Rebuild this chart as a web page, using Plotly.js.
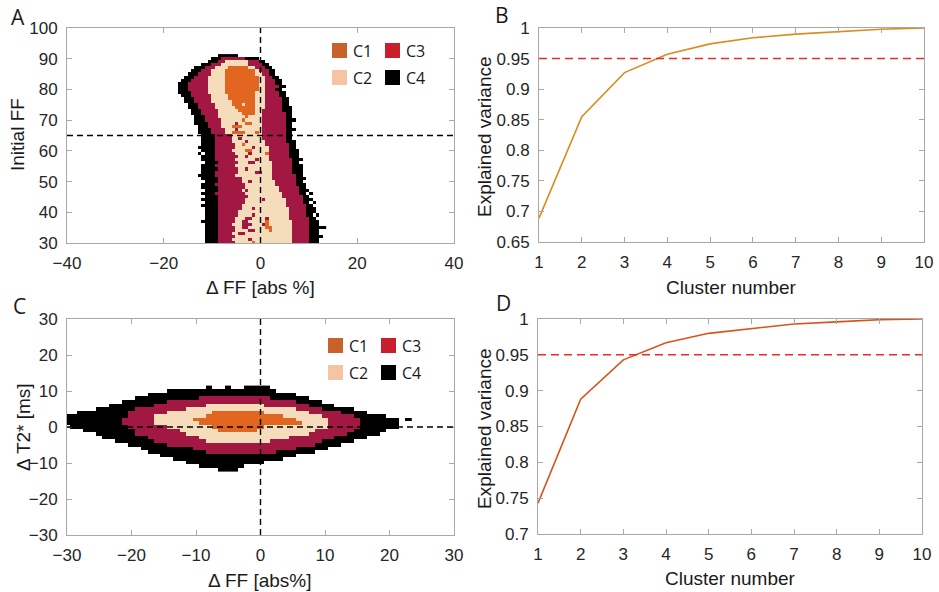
<!DOCTYPE html>
<html>
<head>
<meta charset="utf-8">
<script src="https://cdn.plot.ly/plotly-3.0.1.min.js"></script>
<style>
  html, body { margin: 0; padding: 0; background: #fff; }
  #fig { width: 939px; height: 592px; }
</style>
</head>
<body>
<div id="fig"></div>
<script>
// ---------------- data ----------------
const clusterNames = ['C1', 'C2', 'C3', 'C4'];
const mapColors = ['#E2661F', '#F5DDBC', '#A31843', '#000000'];
const keyColors = ['#C9612B', '#F5C4A2', '#C81E2D', '#000000'];

// Panel A grid: columns of ΔFF (centre of first column, width), rows of initial FF
const aColX0 = -17.5;
const aColDx = 0.7;
const aColCount = 45;
const aRowTop = 91;
// one row per FF unit, top to bottom; "cluster:firstCol-lastCol"
const aRows = [
  "4:13-18",
  "4:11-13 3:14-20 4:21-24",
  "4:10-12 3:13-14 2:15-21 3:22-24 4:25-26",
  "4:8-10 3:11-13 2:14-21 3:22-25 4:26-27",
  "4:6-8 3:9-11 2:12-15 1:16-21 2:22-23 3:24-26 4:27-28",
  "4:5-7 3:8-10 2:11-14 1:15-23 2:24 3:25-27 4:28-29",
  "4:4-6 3:7-10 2:11-14 1:15-23 2:24-25 3:26-27 4:28-29",
  "4:3-5 3:6-9 2:10-14 1:15-24 2:25-26 3:27-28 4:29-30",
  "4:2-4 3:5-9 2:10-14 1:15-24 2:25-26 3:27-29 4:30-31",
  "4:1-3 3:4-9 2:10-14 1:15-24 2:25-26 3:27-29 4:30-31",
  "4:1-3 3:4-9 2:10-14 1:15-24 2:25-26 3:27-30 4:31-32",
  "4:1-3 3:4-9 2:10-14 1:15-24 2:25-26 3:27-29 4:30-31",
  "4:1-4 3:5-9 2:10-14 1:15-23 2:24-26 3:27-30 4:31-32",
  "4:2-4 3:5-10 2:11-15 1:16-23 2:24-26 3:27-30 4:31-32",
  "4:3-5 3:6-10 2:11-15 1:16-23 2:24-26 3:27-31 4:32-33",
  "4:3-5 3:6-10 2:11-16 1:17-23 2:24-26 3:27-31 4:32-33",
  "4:4-6 3:7-11 2:12-16 1:17-19 2:20 1:21-23 2:24-26 3:27-31 4:32-33",
  "4:4-6 3:7-11 2:12-17 1:18-23 2:24-26 3:27-31 4:32-34",
  "4:5-7 3:8-12 2:13-18 1:19-23 2:24-25 3:26-31 4:32-34",
  "4:5-7 3:8-12 2:13-19 1:20-23 2:24-25 3:26-32 4:33-34",
  "4:6-8 3:9-12 2:13-20 1:21 2:22-25 3:26-32 4:33-34",
  "4:6-8 3:9-13 2:14-19 1:20 2:21-25 3:26-32 4:33-35",
  "4:6-9 3:10-13 2:14-17 3:18 2:19-20 1:21-22 2:23-25 3:26-32 4:33-34",
  "4:7-9 3:10-13 2:14-16 1:17-19 2:20-25 3:26-32 4:33-34",
  "4:7-10 3:11-14 2:15-17 3:18 2:19-25 3:26-32 4:33-35",
  "4:7-10 3:11-14 2:15-16 1:17-20 2:21-23 1:24 2:25 3:26-32 4:33-34",
  "4:8-11 3:12-16 2:17-25 3:26-32 4:33-34",
  "4:8-11 3:12-16 2:17-18 3:19 2:20-25 3:26-32 4:33-34",
  "4:8-11 3:12-16 2:17-20 3:21 2:22-26 3:27-32 4:33-35",
  "4:8-11 3:12-17 2:18-19 1:20 2:21-26 3:27-33 4:34-35",
  "4:7-11 3:12-17 2:18-22 3:23 2:24-27 3:28-33 4:34-35",
  "4:8-11 3:12-16 2:17-20 1:21-22 2:23-27 3:28-33 4:34-36",
  "4:7 4:9-11 3:12-17 2:18-21 3:22 2:23-26 1:27 3:28-33 4:34-36",
  "4:8-11 3:12-18 2:19-20 3:21 2:22-27 3:28-33 4:34-36",
  "4:8-11 3:12-17 2:18-23 3:24 2:25-27 3:28-34 4:35-37",
  "4:9-12 3:13-18 2:19-21 3:22-23 2:24-28 3:29-34 4:35-36",
  "4:8-11 3:12-17 2:18-28 3:29-34 4:35-37",
  "4:8-12 3:13-18 2:19-20 3:21 2:22-28 3:29-34 4:35-37",
  "4:8-11 3:12-18 2:19-23 3:24-25 2:26-28 3:29-34 4:35-37",
  "4:7-11 3:12-17 2:18-28 3:29-35 4:36-37",
  "4:8-12 3:13-19 2:20-28 3:29-35 4:36-38",
  "4:9-12 3:13-19 2:20-21 3:22 2:23-29 3:30-35 4:36-37",
  "4:8-11 3:12-20 2:21-29 3:30-35 4:36-38",
  "4:8-12 3:13-20 2:21-30 3:31-36 4:37-38",
  "4:9-12 3:13-19 2:20 3:21 2:22-30 3:31-36 4:37-39",
  "4:8-11 3:12-20 2:21-31 3:32-36 4:37-38 4:40",
  "4:9-12 3:13-21 2:22-31 3:32-37 4:38-39",
  "4:8-12 3:13-20 2:21-25 3:26 2:27-32 3:33-37 4:38-40",
  "4:9-12 3:13-20 2:21-32 3:33-37 4:38-39 4:41",
  "4:8-12 3:13-19 2:20-32 3:33-38 4:39-40",
  "4:9-12 3:13-19 2:20-22 3:23 2:24-33 3:34-38 4:39-41",
  "4:9-12 3:13-18 2:19-33 3:34-38 4:39-41",
  "4:9-12 3:13-18 2:19-22 3:23 2:24-33 3:34-38 4:39-40 4:42",
  "4:9-12 3:13-17 2:18-20 3:21-22 2:23-26 3:27 2:28-33 3:34-39 4:40-41",
  "4:8-12 3:13-17 2:18-19 3:20-21 2:22-26 1:27 2:28-34 3:35-39 4:40-42",
  "4:9-12 3:13-16 2:17-19 3:20-22 2:23-25 3:26 1:27 2:28-34 3:35-39 4:40-42",
  "4:9-12 3:13-17 2:18-19 3:20-21 2:22-26 1:27-28 2:29-34 3:35-39 4:40-44",
  "4:9-12 3:13-17 2:18-21 3:22-23 2:24-27 1:28 2:29-34 3:35-39 4:40-42",
  "4:9-12 3:13-16 2:17-18 3:19-20 2:21-34 3:35-39 4:40-42",
  "4:9-12 3:13-17 2:18-34 3:35-39 4:40-43",
  "4:9-12 3:13-16 2:17-21 3:22 2:23-34 3:35-39 4:40-42",
  "4:9-12 3:13-17 2:18-22 1:23 2:24-34 3:35-39 4:40-42"
];

// Panel C grid: ΔFF columns from -30, ΔT2* rows from +11 down; later segments sit on top
const cColX0 = -30;
const cColDx = 1;
const cColCount = 54;
const cRowTop = 11;
const cRows = [
  "4:22 4:25 4:28-31",
  "4:16-32",
  "4:13-35",
  "4:11-37 3:21-31",
  "4:9-39 3:16-35",
  "4:7-41 3:14-37 2:22-30",
  "4:5-44 3:11-39 2:19-35",
  "4:2-46 3:10-42 2:16-37 1:23-30",
  "4:0-49 3:10-44 2:14-39 1:22-33",
  "4:0-51 4:53 3:9-45 2:14-40 1:20-35",
  "4:0-51 3:9-45 2:14-40 1:21-36",
  "4:1-51 3:10-45 2:16-40 1:23-30",
  "4:3-49 3:11-44 2:18-38 1:24-29",
  "4:5-48 3:11-43 2:19-37",
  "4:6-46 3:13-41 2:21-34",
  "4:8-44 3:14-39 2:22-31",
  "4:10-42 3:16-38",
  "4:12-40 3:20-35",
  "4:13-38 3:22-32",
  "4:15-35",
  "4:17-33",
  "4:19-30",
  "4:21-27",
  "4:24-26"
];

// Panels B and D: explained variance per number of clusters
const clusterNumber = [1, 2, 3, 4, 5, 6, 7, 8, 9, 10];
const varianceB = [0.689, 0.855, 0.927, 0.957, 0.974, 0.984, 0.990, 0.994, 0.998, 1.000];
const varianceD = [0.743, 0.888, 0.943, 0.967, 0.980, 0.986, 0.993, 0.996, 0.999, 1.000];
const varianceTarget = 0.95;
const ffThreshold = 65;
const zeroRef = 0;

// tick labels
const aXTicks = [-40, -20, 0, 20, 40];
const aYTicks = [30, 40, 50, 60, 70, 80, 90, 100];
const cTicks = [-30, -20, -10, 0, 10, 20, 30];
const bYTicks = [0.65, 0.7, 0.75, 0.8, 0.85, 0.9, 0.95, 1];
const bYLabels = ['0.65', '0.7', '0.75', '0.8', '0.85', '0.9', '0.95', '1'];
const dYTicks = [0.7, 0.75, 0.8, 0.85, 0.9, 0.95, 1];
const dYLabels = ['0.7', '0.75', '0.8', '0.85', '0.9', '0.95', '1'];

// ---------------- helpers ----------------
function decodeRows(rows, ncols) {
  return rows.map(function (r) {
    const line = new Array(ncols).fill(null);
    r.trim().split(/\s+/).forEach(function (seg) {
      const parts = seg.split(':');
      const c = +parts[0];
      const ends = parts[1].split('-').map(Number);
      const a = ends[0];
      const b = ends.length > 1 ? ends[1] : ends[0];
      for (let i = a; i <= b; i++) line[i] = c;
    });
    return line;
  });
}
function centres(x0, dx, n) {
  const out = [];
  for (let i = 0; i < n; i++) out.push(+(x0 + dx * i).toFixed(4));
  return out;
}
function rowCentres(top, n) {
  const out = [];
  for (let i = 0; i < n; i++) out.push(top - i);
  return out;
}

const W = 939, H = 592;
const PX = p => p / W;
const PY = p => 1 - p / H;

const discreteScale = [
  [0, mapColors[0]], [0.25, mapColors[0]],
  [0.25, mapColors[1]], [0.5, mapColors[1]],
  [0.5, mapColors[2]], [0.75, mapColors[2]],
  [0.75, mapColors[3]], [1, mapColors[3]]
];

const FONT = "'Liberation Sans', Arial, sans-serif";
const KEYFONT = "'Open Sans', 'Liberation Sans', sans-serif";

const traces = [
  {
    type: 'heatmap',
    x: centres(aColX0, aColDx, aColCount),
    y: rowCentres(aRowTop, aRows.length),
    z: decodeRows(aRows, aColCount),
    colorscale: discreteScale, zmin: 0.5, zmax: 4.5,
    showscale: false, hoverongaps: false,
    xaxis: 'x', yaxis: 'y'
  },
  {
    type: 'scatter', mode: 'lines',
    x: clusterNumber, y: varianceB,
    line: { color: '#DB8B1F', width: 1.6 },
    xaxis: 'x2', yaxis: 'y2', showlegend: false
  },
  {
    type: 'heatmap',
    x: centres(cColX0, cColDx, cColCount),
    y: rowCentres(cRowTop, cRows.length),
    z: decodeRows(cRows, cColCount),
    colorscale: discreteScale, zmin: 0.5, zmax: 4.5,
    showscale: false, hoverongaps: false,
    xaxis: 'x3', yaxis: 'y3'
  },
  {
    type: 'scatter', mode: 'lines',
    x: clusterNumber, y: varianceD,
    line: { color: '#D95319', width: 1.6 },
    xaxis: 'x4', yaxis: 'y4', showlegend: false
  }
];

function axis(extra) {
  return Object.assign({
    showline: true, linecolor: '#a8a8a8', linewidth: 1,
    mirror: 'allticks', ticks: 'inside', ticklen: 5, tickcolor: '#a8a8a8',
    showgrid: false, zeroline: false, fixedrange: true,
    tickfont: { family: FONT, size: 17, color: '#262626' },
    ticklabelstandoff: 5
  }, extra);
}

const dash = { color: '#000', width: 1.4, dash: '6px,4px' };
const redDash = { color: '#F02828', width: 1.5, dash: '8px,5px' };

const shapes = [
  { type: 'line', xref: 'x', yref: 'y domain', x0: zeroRef, x1: zeroRef, y0: 0, y1: 1, line: dash, layer: 'above' },
  { type: 'line', xref: 'x domain', yref: 'y', x0: 0, x1: 1, y0: ffThreshold, y1: ffThreshold, line: dash, layer: 'above' },
  { type: 'line', xref: 'x3', yref: 'y3 domain', x0: zeroRef, x1: zeroRef, y0: 0, y1: 1, line: dash, layer: 'above' },
  { type: 'line', xref: 'x3 domain', yref: 'y3', x0: 0, x1: 1, y0: zeroRef, y1: zeroRef, line: dash, layer: 'above' },
  { type: 'line', xref: 'x2 domain', yref: 'y2', x0: 0, x1: 1, y0: varianceTarget, y1: varianceTarget, line: redDash, layer: 'above' },
  { type: 'line', xref: 'x4 domain', yref: 'y4', x0: 0, x1: 1, y0: varianceTarget, y1: varianceTarget, line: redDash, layer: 'above' }
];

const annotations = [];
function label(text, x, y, size, angle, font) {
  annotations.push({
    text: text, xref: 'paper', yref: 'paper', x: PX(x), y: PY(y),
    xanchor: 'center', yanchor: 'middle', showarrow: false,
    textangle: angle || 0,
    font: { family: font || FONT, size: size, color: '#1a1a1a' }
  });
}

// panel letters
label('A', 18, 17, 21, 0, KEYFONT);
label('B', 502, 15, 21, 0, KEYFONT);
label('C', 19, 306, 21, 0, KEYFONT);
label('D', 503, 303, 21, 0, KEYFONT);

// axis titles
label('Initial FF', 17, 135, 19, -90);
label('\u0394 FF [abs %]', 260, 287, 19);
label('Explained variance', 485, 137, 19, -90);
label('Cluster number', 731, 287, 19);
label('\u0394 T2* [ms]', 23, 427, 19, -90);
label('\u0394 FF [abs%]', 260, 580, 19);
label('Explained variance', 484, 428, 19, -90);
label('Cluster number', 730, 578, 19);

// cluster keys (2 x 2) for panels A and C
function clusterKey(left, top) {
  const cols = [0, 53];
  const rows = [0, 27];
  const order = [0, 2, 1, 3]; // C1 C3 / C2 C4
  order.forEach(function (k, n) {
    const cx = left + cols[n % 2];
    const cy = top + rows[Math.floor(n / 2)];
    shapes.push({
      type: 'rect', xref: 'paper', yref: 'paper',
      x0: PX(cx), x1: PX(cx + 15), y0: PY(cy + 15), y1: PY(cy),
      fillcolor: keyColors[k], line: { width: 0 }, layer: 'above'
    });
    annotations.push({
      text: clusterNames[k], xref: 'paper', yref: 'paper',
      x: PX(cx + 19), y: PY(cy + 8), xanchor: 'left', yanchor: 'middle',
      showarrow: false, font: { family: KEYFONT, size: 16, color: '#1a1a1a' }
    });
  });
}
clusterKey(332, 43);
clusterKey(328, 338);

const layout = {
  width: W, height: H,
  margin: { l: 0, r: 0, t: 0, b: 0 },
  paper_bgcolor: '#fff', plot_bgcolor: '#fff',
  showlegend: false,
  font: { family: FONT, color: '#262626' },
  xaxis: axis({ domain: [PX(67), PX(454)], range: [-40, 40], tickvals: aXTicks, anchor: 'y' }),
  yaxis: axis({ domain: [PY(243), PY(28)], range: [30, 100], tickvals: aYTicks, anchor: 'x' }),
  xaxis2: axis({ domain: [PX(539), PX(924)], range: [1, 10], tickvals: clusterNumber, anchor: 'y2' }),
  yaxis2: axis({ domain: [PY(242), PY(28)], range: [0.65, 1], tickvals: bYTicks, ticktext: bYLabels, anchor: 'x2' }),
  xaxis3: axis({ domain: [PX(67), PX(454)], range: [-30, 30], tickvals: cTicks, anchor: 'y3' }),
  yaxis3: axis({ domain: [PY(535), PY(319)], range: [-30, 30], tickvals: cTicks, anchor: 'x3' }),
  xaxis4: axis({ domain: [PX(538), PX(922)], range: [1, 10], tickvals: clusterNumber, anchor: 'y4' }),
  yaxis4: axis({ domain: [PY(534), PY(319)], range: [0.7, 1], tickvals: dYTicks, ticktext: dYLabels, anchor: 'x4' }),
  shapes: shapes,
  annotations: annotations
};

Plotly.newPlot('fig', traces, layout, { staticPlot: true, displayModeBar: false });
</script>
</body>
</html>
